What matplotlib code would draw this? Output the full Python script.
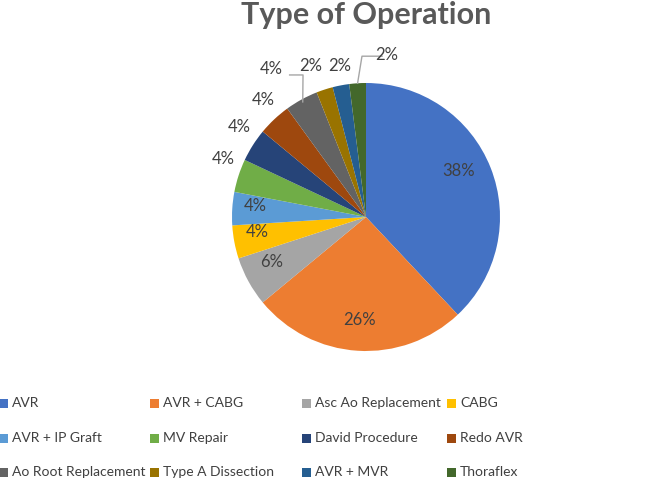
import matplotlib.pyplot as plt
import numpy as np
from matplotlib.patches import Rectangle

OPERATIONS = [
    "AVR", "AVR + CABG", "Asc Ao Replacement", "CABG",
    "AVR + IP Graft", "MV Repair", "David Procedure", "Redo AVR",
    "Ao Root Replacement", "Type A Dissection", "AVR + MVR", "Thoraflex",
]
SHARES = [38, 26, 6, 4, 4, 4, 4, 4, 4, 2, 2, 2]
COLORS = [
    "#4472C4", "#ED7D31", "#A5A5A5", "#FFC000",
    "#5B9BD5", "#70AD47", "#264478", "#9E480E",
    "#636363", "#997300", "#255E91", "#43682B",
]

# label placement (fraction of radius, angle nudge in degrees)
LABEL_DIST = [0.77, 0.77, 0.78, 0.82, 0.83, 1.15, 1.16, 1.16, 1.31, 1.20, 1.14, 1.22]
LABEL_NUDGE = [-5, 0, 3, 3, 2, 4, 3, 2, -4, -2, 1, 11]

FONT = ["Lato", "DejaVu Sans"]
plt.rcParams["font.family"] = FONT

W, H = 649, 482
fig = plt.figure(figsize=(W / 100, H / 100), dpi=100)

cx, cy, r = 366, 217, 134
ax = fig.add_axes([(cx - r) / W, (H - cy - r) / H, 2 * r / W, 2 * r / H])
wedges, _ = ax.pie(
    SHARES, colors=COLORS, startangle=90, counterclock=False,
    wedgeprops={"linewidth": 0},
)
ax.set_xlim(-1, 1)
ax.set_ylim(-1, 1)
ax.set_aspect("equal")
ax.axis("off")

for w, val, d, nudge in zip(wedges, SHARES, LABEL_DIST, LABEL_NUDGE):
    mid = np.deg2rad((w.theta1 + w.theta2) / 2 - nudge)
    ax.text(d * np.cos(mid), d * np.sin(mid), f"{val}%", ha="center", va="center",
            fontsize=12, color="#404040", clip_on=False)

# leader lines for the crowded labels near the top
def leader(w, tip_frac, pts):
    mid = np.deg2rad((w.theta1 + w.theta2) / 2)
    xs = [p[0] for p in pts] + [tip_frac * np.cos(mid)]
    ys = [p[1] for p in pts] + [tip_frac * np.sin(mid)]
    ax.plot(xs, ys, color="#A6A6A6", lw=1.0, clip_on=False)

leader(wedges[8], 0.98, [(-0.57, 1.06), (-0.47, 1.06)])
leader(wedges[11], 1.0, [(0.12, 1.20), (-0.03, 1.20)])

fig.text(cx / W, 1 - 15 / H, "Type of Operation", ha="center", va="center",
         fontsize=22, fontweight="bold", color="#595959")

# legend, 4 columns x 3 rows
col_x = [-1, 150, 302, 447]
row_y = [403, 438, 472]
for i, (name, col) in enumerate(zip(OPERATIONS, COLORS)):
    x0 = col_x[i % 4]
    y0 = row_y[i // 4]
    fig.patches.append(Rectangle((x0 / W, (H - y0 - 4.5) / H), 9 / W, 9 / H,
                                 transform=fig.transFigure, facecolor=col,
                                 edgecolor="none"))
    fig.text((x0 + 13) / W, 1 - y0 / H, name, ha="left", va="center",
             fontsize=10, color="#404040")

fig.savefig("out.png", dpi=100)
